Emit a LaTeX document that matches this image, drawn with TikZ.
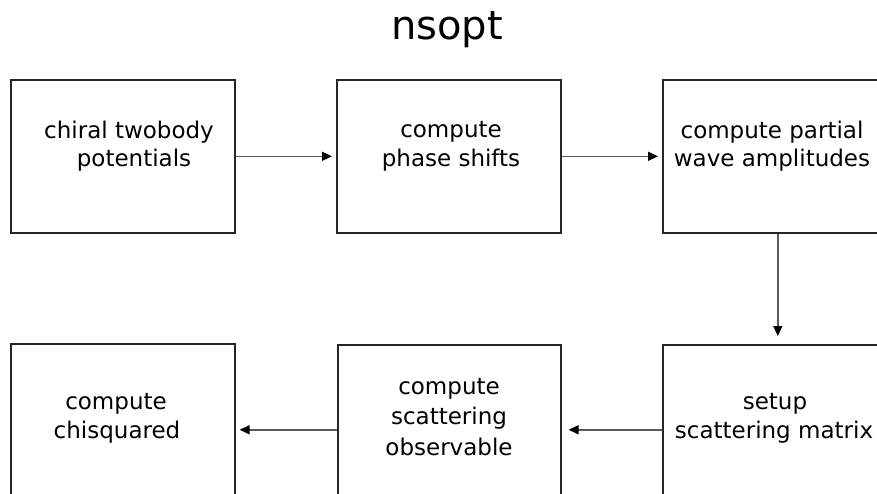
\documentclass[tikz,border=0pt]{standalone}
\usepackage{fontspec}
\setmainfont{DejaVu Sans}
\usetikzlibrary{arrows.meta}
\tikzset{
  stagebox/.style={draw=black!85, line width=1.6pt, fill=white, inner sep=0pt, anchor=north west},
  stagetext/.style={font=\fontsize{23}{28}\selectfont, text=black, inner sep=0pt, align=center},
  flow/.style={draw=black!65, line width=1.5pt, -{Triangle[length=10pt,width=9pt,color=black]}},
}
\begin{document}
\begin{tikzpicture}[x=1pt,y=-1pt]
  \clip (0,0) rectangle (877,494);
  \fill[white] (0,0) rectangle (877,494);

  % title
  \node[font=\fontsize{40}{48}\selectfont] (title) at (447,30) {nsopt};

  % pipeline stages
  \node[stagebox, minimum width=224pt, minimum height=153pt] (pot) at (10,79) {};
  \node[stagebox, minimum width=224pt, minimum height=153pt] (phase) at (336,79) {};
  \node[stagebox, minimum width=230pt, minimum height=153pt] (pwa) at (662,79) {};
  \node[stagebox, minimum width=230pt, minimum height=170pt] (smat) at (662,344) {};
  \node[stagebox, minimum width=223pt, minimum height=170pt] (obs) at (337,344) {};
  \node[stagebox, minimum width=224pt, minimum height=172pt] (chi) at (10,343) {};

  % stage labels
  \node[stagetext] (potA) at (129,132) {chiral twobody};
  \node[stagetext] (potB) at (134,160) {potentials};
  \node[stagetext] (phaseA) at (451,132) {compute};
  \node[stagetext] (phaseB) at (451,160) {phase shifts};
  \node[stagetext] (pwaA) at (772,132) {compute partial};
  \node[stagetext] (pwaB) at (772,160) {wave amplitudes};
  \node[stagetext] (smatA) at (775,404) {setup};
  \node[stagetext] (smatB) at (774,432) {scattering matrix};
  \node[stagetext] (obsA) at (449,389) {compute};
  \node[stagetext] (obsB) at (449,418) {scattering};
  \node[stagetext] (obsC) at (449,447) {observable};
  \node[stagetext] (chiA) at (116,404) {compute};
  \node[stagetext] (chiB) at (117,432) {chisquared};

  % flow between stages
  \draw[flow, shorten >=4pt] (pot.east) -- (phase.west);
  \draw[flow, shorten >=4pt] (phase.east) -- (pwa.west);
  \draw[flow, shorten >=8pt] (pwa.south) -- (smat.north);
  \draw[flow, shorten >=7pt] (smat.west) -- (obs.east);
  \draw[flow, shorten >=4pt] (obs.west) -- (chi.east);
\end{tikzpicture}
\end{document}
